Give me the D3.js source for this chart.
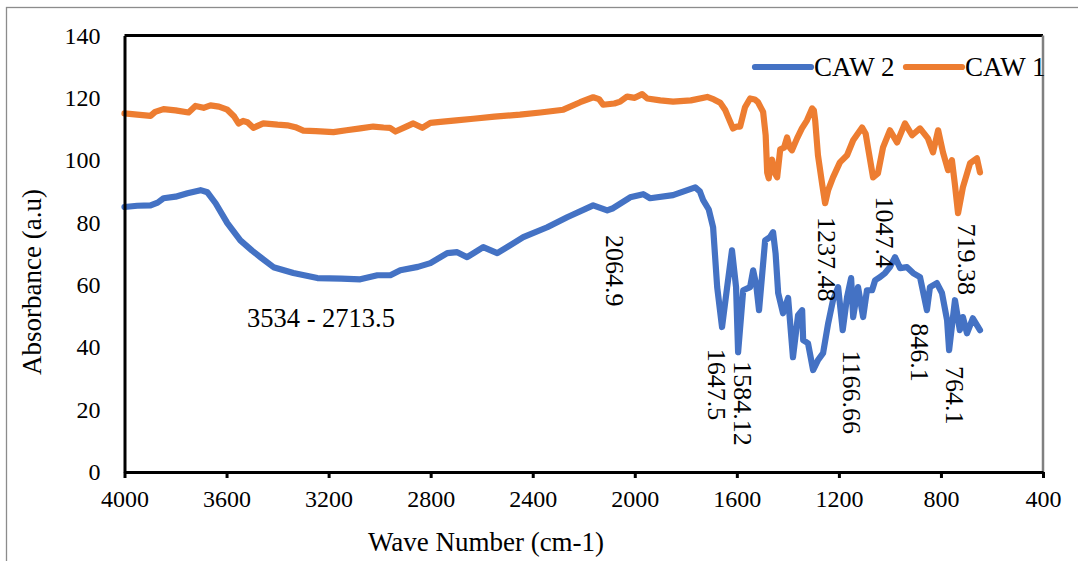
<!DOCTYPE html>
<html>
<head>
<meta charset="utf-8">
<script src="https://cdn.jsdelivr.net/npm/d3@7"></script>
<style>
  body { margin: 0; background: #fff; }
  svg { display: block; font-family: "Liberation Serif", "Times New Roman", serif; }
</style>
</head>
<body>
<svg id="chart" width="1078" height="561"></svg>
<script>
// wave numbers and values
let caw1Wave = [4000, 3950, 3898, 3880, 3847, 3800, 3749, 3722, 3690, 3663, 3630, 3597, 3570, 3553, 3535, 3518, 3495, 3456, 3400, 3362, 3330, 3299, 3250, 3181, 3130, 3076, 3025, 2985, 2960, 2938, 2900, 2868, 2833, 2801, 2762, 2700, 2633, 2550, 2450, 2370, 2280, 2214, 2163, 2140, 2124, 2080, 2057, 2030, 2000, 1971, 1951, 1900, 1850, 1780, 1716, 1690, 1665, 1645, 1634, 1615, 1600, 1587, 1568, 1548, 1530, 1517, 1497, 1487, 1481, 1475, 1468, 1462, 1452, 1442, 1430, 1415, 1403, 1392, 1384, 1364, 1345, 1325, 1305, 1298, 1293, 1282, 1265, 1254, 1242, 1223, 1196, 1168, 1144, 1109, 1095, 1086, 1066, 1047, 1027, 1000, 972, 941, 913, 882, 851, 831, 811, 792, 772, 757, 745, 733, 714, 686, 659, 647];
let caw1 = [115, 114.6, 114.2, 115.5, 116.4, 116, 115.3, 117.4, 116.8, 117.6, 117.2, 116.2, 114, 111.8, 112.6, 112.2, 110.4, 111.8, 111.4, 111.2, 110.6, 109.5, 109.3, 109, 109.6, 110.2, 110.8, 110.5, 110.4, 109.2, 110.6, 111.8, 110.4, 112, 112.3, 112.8, 113.3, 114, 114.6, 115.3, 116.2, 118.6, 120.2, 119.6, 117.8, 118.2, 118.8, 120.4, 120, 121.2, 119.8, 119.2, 118.8, 119.2, 120.3, 119.5, 118.4, 116, 113.8, 110.2, 110.8, 110.8, 117, 119.8, 119.5, 118.6, 115.5, 108, 96, 94.2, 99, 100.2, 96, 94.5, 103.5, 104, 107.3, 104, 103.2, 107, 110.2, 112.8, 116.6, 116, 112.8, 101.6, 92, 86.2, 90.4, 94.5, 99.3, 101.6, 106.4, 110.5, 108.5, 104.1, 94.5, 95.8, 104.1, 109.6, 105.7, 111.8, 108, 110.2, 107, 102.5, 109.6, 102.5, 96.8, 100, 92, 83, 91.3, 99, 100.6, 96.1];

let caw2Wave = [4000, 3950, 3898, 3870, 3847, 3800, 3753, 3702, 3675, 3643, 3597, 3546, 3500, 3467, 3416, 3338, 3244, 3150, 3076, 3009, 2958, 2919, 2850, 2801, 2735, 2696, 2657, 2594, 2539, 2437, 2343, 2265, 2163, 2108, 2085, 2018, 1967, 1940, 1850, 1763, 1745, 1732, 1710, 1693, 1677, 1658, 1638, 1619, 1603, 1595, 1575, 1548, 1536, 1524, 1513, 1489, 1470, 1458, 1448, 1438, 1419, 1399, 1380, 1360, 1344, 1340, 1321, 1301, 1282, 1262, 1242, 1223, 1203, 1185, 1168, 1152, 1144, 1125, 1105, 1090, 1070, 1058, 1039, 1019, 1000, 980, 960, 933, 909, 882, 855, 843, 816, 796, 776, 768, 745, 726, 714, 698, 675, 647];
let caw2 = [85, 85.4, 85.5, 86.4, 87.8, 88.3, 89.4, 90.4, 89.7, 86.2, 79.8, 74.3, 71, 68.9, 65.7, 63.8, 62.2, 62, 61.8, 63.1, 63.1, 64.7, 65.8, 67, 70.2, 70.5, 68.9, 72.1, 70.2, 75.3, 78.5, 81.7, 85.5, 83.9, 84.6, 88.1, 89.1, 87.8, 88.8, 91.3, 90, 87.2, 84.2, 78.5, 59.3, 46.5, 59.3, 71.1, 59.3, 38.4, 58.3, 59.3, 64.7, 60, 51.9, 74.3, 75.3, 76.9, 70, 57.4, 50.9, 55.8, 36.8, 50.3, 51.9, 42.3, 41.3, 32.7, 35.9, 38.1, 47.7, 55.1, 59.3, 45.5, 56.1, 62.2, 49.7, 59.3, 49.7, 58.3, 58.3, 61.5, 62.5, 63.8, 65.7, 68.9, 65.4, 65.7, 63.8, 62.5, 51.9, 59.3, 60.6, 57.4, 48.7, 39.1, 55.1, 45.5, 49.7, 44.5, 49.3, 45.5];

let xTicks = [4000, 3600, 3200, 2800, 2400, 2000, 1600, 1200, 800, 400];
let yTicks = [0, 20, 40, 60, 80, 100, 120, 140];

// peak labels (vertical) : text, wave number where drawn, value where the text starts
let peakText = ['2064.9', '1237.48', '1047.4', '719.38', '1647.5', '1584.12', '1166.66', '846.1', '764.1'];
let peakWave = [2077, 1246, 1019, 698, 1677, 1575, 1148, 882, 745];
let peakTop  = [76, 81.8, 88.4, 79.7, 39.5, 35.5, 39, 47.7, 34];

let seriesNames = ['CAW 2', 'CAW 1'];
let seriesColors = ['#4472C4', '#ED7D31'];

let svg = d3.select('#chart');

let x = d3.scaleLinear().domain([4000, 400]).range([124.5, 1043]);
let y = d3.scaleLinear().domain([0, 140]).range([472, 35.5]);

// outer border
svg.append('rect')
  .attr('x', 6.5).attr('y', 7.5)
  .attr('width', 1090).attr('height', 570)
  .attr('fill', 'none')
  .attr('stroke', '#8c8c8c')
  .attr('stroke-width', 1.3);

// frame top and right
svg.append('line')
  .attr('x1', x(4000)).attr('x2', x(400))
  .attr('y1', y(140)).attr('y2', y(140))
  .attr('stroke', '#000').attr('stroke-width', 3);
svg.append('line')
  .attr('x1', x(400)).attr('x2', x(400))
  .attr('y1', y(140)).attr('y2', y(0))
  .attr('stroke', '#808080').attr('stroke-width', 2.5);

let line = d3.line()
  .x(d => x(d[0]))
  .y(d => y(d[1]));

let series = [d3.zip(caw2Wave, caw2), d3.zip(caw1Wave, caw1)];

svg.append('g')
  .selectAll('path')
  .data(series)
  .join('path')
  .attr('d', line)
  .attr('fill', 'none')
  .attr('stroke', (d, i) => seriesColors[i])
  .attr('stroke-width', 6.2)
  .attr('stroke-linejoin', 'round')
  .attr('stroke-linecap', 'round');

// axes
let xAxis = svg.append('g')
  .attr('transform', 'translate(0,' + y(0) + ')')
  .call(d3.axisBottom(x).tickValues(xTicks).tickSize(6).tickSizeOuter(0).tickPadding(12).tickFormat(d => d));
let yAxis = svg.append('g')
  .attr('transform', 'translate(' + x(4000) + ',0)')
  .call(d3.axisLeft(y).tickValues(yTicks).tickSize(0).tickPadding(24).tickFormat(d => d));

svg.selectAll('.domain').attr('stroke', '#000').attr('stroke-width', 3);
xAxis.selectAll('.tick line').attr('stroke', '#000').attr('stroke-width', 3);
svg.selectAll('.tick text')
  .attr('font-family', '"Liberation Serif", serif')
  .attr('font-size', 24)
  .attr('fill', '#000');

// axis titles
svg.append('text')
  .attr('x', 486).attr('y', 551)
  .attr('text-anchor', 'middle')
  .attr('font-size', 27)
  .text('Wave Number (cm-1)');
svg.append('text')
  .attr('transform', 'translate(41,282) rotate(-90)')
  .attr('text-anchor', 'middle')
  .attr('font-size', 27)
  .text('Absorbance (a.u)');

// legend
let legendX = [755, 906];
seriesNames.forEach(function(name, i) {
  svg.append('line')
    .attr('x1', legendX[i]).attr('x2', legendX[i] + 56)
    .attr('y1', 67).attr('y2', 67)
    .attr('stroke', seriesColors[i])
    .attr('stroke-width', 6.2)
    .attr('stroke-linecap', 'round');
  svg.append('text')
    .attr('x', legendX[i] + 59).attr('y', 76)
    .attr('font-size', 27)
    .text(name);
});

// peak annotations
peakText.forEach(function(t, i) {
  svg.append('text')
    .attr('transform', 'translate(' + x(peakWave[i]) + ',' + y(peakTop[i]) + ') rotate(90)')
    .attr('dy', '0.35em')
    .attr('font-size', 26)
    .text(t);
});

svg.append('text')
  .attr('x', 247).attr('y', 327)
  .attr('font-size', 26.5)
  .text('3534 - 2713.5');
</script>
</body>
</html>
